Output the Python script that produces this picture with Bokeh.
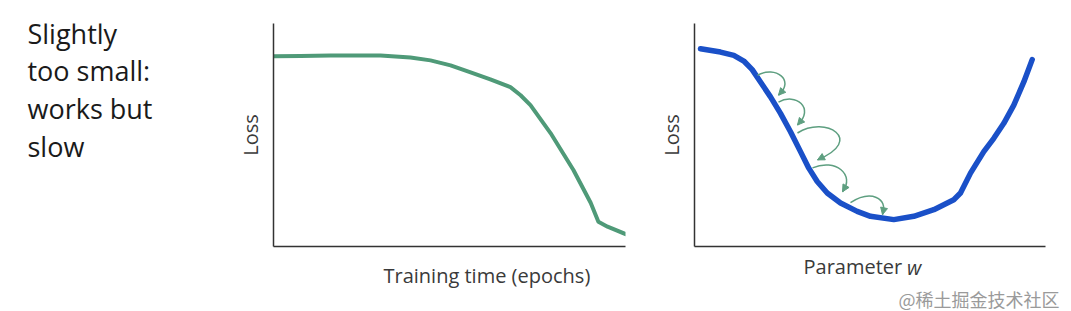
import numpy as np
from bokeh.plotting import figure
from bokeh.layouts import row
from bokeh.models import (Label, FixedTicker, Arrow, NormalHead, ColumnDataSource, Range1d,
                          Title, LinearAxis)
from bokeh.embed import file_html
from bokeh.resources import INLINE

FONT = "Open Sans"

# ---------------- data ----------------
side_text = ["Slightly", "too small:", "works but", "slow"]

# left panel: loss vs training time (arbitrary units 0-100)
epochs = [0, 7.7, 16.2, 30.4, 38.9, 44.6, 50.3, 56.0, 61.6, 67.3, 70.2, 73.0,
          78.7, 85.2, 90.1, 92.3, 94.9, 100.0]
loss_t = [86.3, 86.5, 86.7, 86.7, 85.8, 84.5, 82.3, 79.2, 76.1, 72.6, 69.0, 64.6,
          52.2, 35.8, 21.2, 12.8, 10.6, 7.3]

# right panel: loss vs parameter w
param_w = [1.71, 7.41, 11.20, 14.05, 16.44, 18.80, 21.65, 24.50, 27.35, 30.20, 32.56,
           34.96, 37.81, 41.60, 46.35, 50.14, 56.78, 62.48, 68.18, 73.87, 75.78, 78.63,
           82.42, 85.27, 88.12, 90.97, 93.82, 96.21]
loss_w = [88.26, 86.74, 85.27, 82.72, 78.88, 73.35, 66.65, 59.24, 51.03, 42.10, 34.69,
          28.71, 23.53, 19.06, 15.31, 13.08, 11.61, 13.08, 16.07, 20.54, 23.53, 32.46,
          42.10, 48.08, 54.78, 62.95, 73.35, 83.35]

# gradient-descent step arrows (cubic bezier: start, control 0, control 1, end)
step_x0 = [17.95, 23.93, 29.34, 33.62, 44.44]
step_y0 = [76.34, 64.29, 50.45, 34.82, 19.20]
step_cx0 = [23.08, 28.77, 37.32, 40.17, 50.14]
step_cy0 = [80.80, 68.75, 58.48, 39.29, 25.00]
step_cx1 = [28.77, 34.47, 48.72, 45.87, 55.27]
step_cy1 = [74.11, 61.61, 47.32, 31.70, 21.43]
step_x1 = [23.93, 29.34, 35.04, 42.17, 53.56]
step_y1 = [67.41, 54.02, 38.39, 24.11, 13.84]

AXIS_COLOR = "#333333"
TEXT_COLOR = "#3a3a3a"
GREEN = "#4f9a78"
ARROW_GREEN = "#5e9f80"
BLUE = "#1a50c8"

H = 311
TOP, BOTTOM = 23, 64
NBSP = "\u00a0"


def bare_axis(ax):
    ax.ticker = FixedTicker(ticks=[])
    ax.major_tick_line_color = None
    ax.minor_tick_line_color = None
    ax.major_tick_out = 0
    ax.major_tick_in = 0
    ax.major_label_standoff = 0
    ax.major_label_text_font_size = "0px"


def style_axes(p, ylabel):
    for ax in (p.xaxis[0], p.yaxis[0]):
        bare_axis(ax)
        ax.axis_line_color = AXIS_COLOR
        ax.axis_line_width = 1.5
    p.yaxis.axis_label = ylabel
    p.yaxis.axis_label_text_font = FONT
    p.yaxis.axis_label_text_font_size = "20px"
    p.yaxis.axis_label_text_font_style = "normal"
    p.yaxis.axis_label_text_color = TEXT_COLOR
    p.yaxis.axis_label_standoff = 10
    p.xgrid.visible = False
    p.ygrid.visible = False
    p.outline_line_color = None
    p.background_fill_color = "white"
    p.border_fill_color = "white"


# ---------------- side text panel ----------------
p0 = figure(width=230, height=H, x_range=Range1d(0, 230), y_range=Range1d(BOTTOM, H - TOP),
            output_backend="svg", toolbar_location=None,
            min_border_left=0, min_border_right=0, min_border_top=TOP, min_border_bottom=BOTTOM)
p0.axis.visible = False
p0.grid.visible = False
p0.outline_line_color = None
for i, t in enumerate(side_text):
    p0.add_layout(Label(x=27, y=278 - i * 37.7, text=t, text_font=FONT,
                        text_font_size="27px", text_color="#1a1a1a",
                        text_baseline="alphabetic"))

# ---------------- left chart ----------------
p1 = figure(width=420, height=H, x_range=Range1d(0, 100), y_range=Range1d(1.77, 100.9),
            output_backend="svg", toolbar_location=None,
            min_border_left=43, min_border_right=25, min_border_top=TOP, min_border_bottom=BOTTOM)
style_axes(p1, "Loss")
p1.line(epochs, loss_t, line_color=GREEN, line_width=4, line_cap="round", line_join="round")
p1.add_layout(Title(text="Training time (epochs)", align="left", offset=110, standoff=26,
                    text_font=FONT, text_font_size="20px", text_font_style="normal",
                    text_color=TEXT_COLOR), "below")

# ---------------- right chart ----------------
p2 = figure(width=421, height=H, x_range=Range1d(0, 100), y_range=Range1d(-0.446, 99.55),
            output_backend="svg", toolbar_location=None,
            min_border_left=44, min_border_right=26, min_border_top=TOP, min_border_bottom=BOTTOM)
style_axes(p2, "Loss")
p2.line(param_w, loss_w, line_color=BLUE, line_width=5.5, line_cap="round", line_join="round")

p2.bezier(x0=step_x0, y0=step_y0, x1=step_x1, y1=step_y1,
          cx0=step_cx0, cy0=step_cy0, cx1=step_cx1, cy1=step_cy1,
          line_color=ARROW_GREEN, line_width=1.5)

# arrow heads oriented along the end tangent of each bezier
t = 0.9
bx0, by0 = np.array(step_x0), np.array(step_y0)
bcx0, bcy0 = np.array(step_cx0), np.array(step_cy0)
bcx1, bcy1 = np.array(step_cx1), np.array(step_cy1)
bx1, by1 = np.array(step_x1), np.array(step_y1)
hx = (1 - t) ** 3 * bx0 + 3 * (1 - t) ** 2 * t * bcx0 + 3 * (1 - t) * t ** 2 * bcx1 + t ** 3 * bx1
hy = (1 - t) ** 3 * by0 + 3 * (1 - t) ** 2 * t * bcy0 + 3 * (1 - t) * t ** 2 * bcy1 + t ** 3 * by1
head_src = ColumnDataSource(dict(xs=hx, ys=hy, xe=bx1, ye=by1))
p2.add_layout(Arrow(source=head_src, x_start="xs", y_start="ys", x_end="xe", y_end="ye",
                    line_alpha=0,
                    end=NormalHead(size=7, fill_color=ARROW_GREEN, line_color=ARROW_GREEN,
                                   line_width=1)))

p2.add_layout(Title(text="Parameter", align="left", offset=109, standoff=8,
                    text_font=FONT, text_font_size="20px", text_font_style="normal",
                    text_color=TEXT_COLOR), "below")
p2.add_layout(Title(text="@稀土掘金技术社区", align="left", offset=204, standoff=0,
                    text_font="Noto Sans CJK SC", text_font_size="18px", text_font_style="normal",
                    text_color="#9a9a9a"), "below")

# italic "w" of the x title: label of an extra, line-less axis pulled up beside "Parameter"
w_axis = LinearAxis(axis_label=NBSP * 17 + "w", axis_line_color=None)
bare_axis(w_axis)
w_axis.axis_label_text_font = FONT
w_axis.axis_label_text_font_size = "20px"
w_axis.axis_label_text_font_style = "italic"
w_axis.axis_label_text_color = TEXT_COLOR
w_axis.axis_label_standoff = -58
p2.add_layout(w_axis, "below")

layout = row(p0, p1, p2)
open("out.html", "w").write(file_html(layout, INLINE))
